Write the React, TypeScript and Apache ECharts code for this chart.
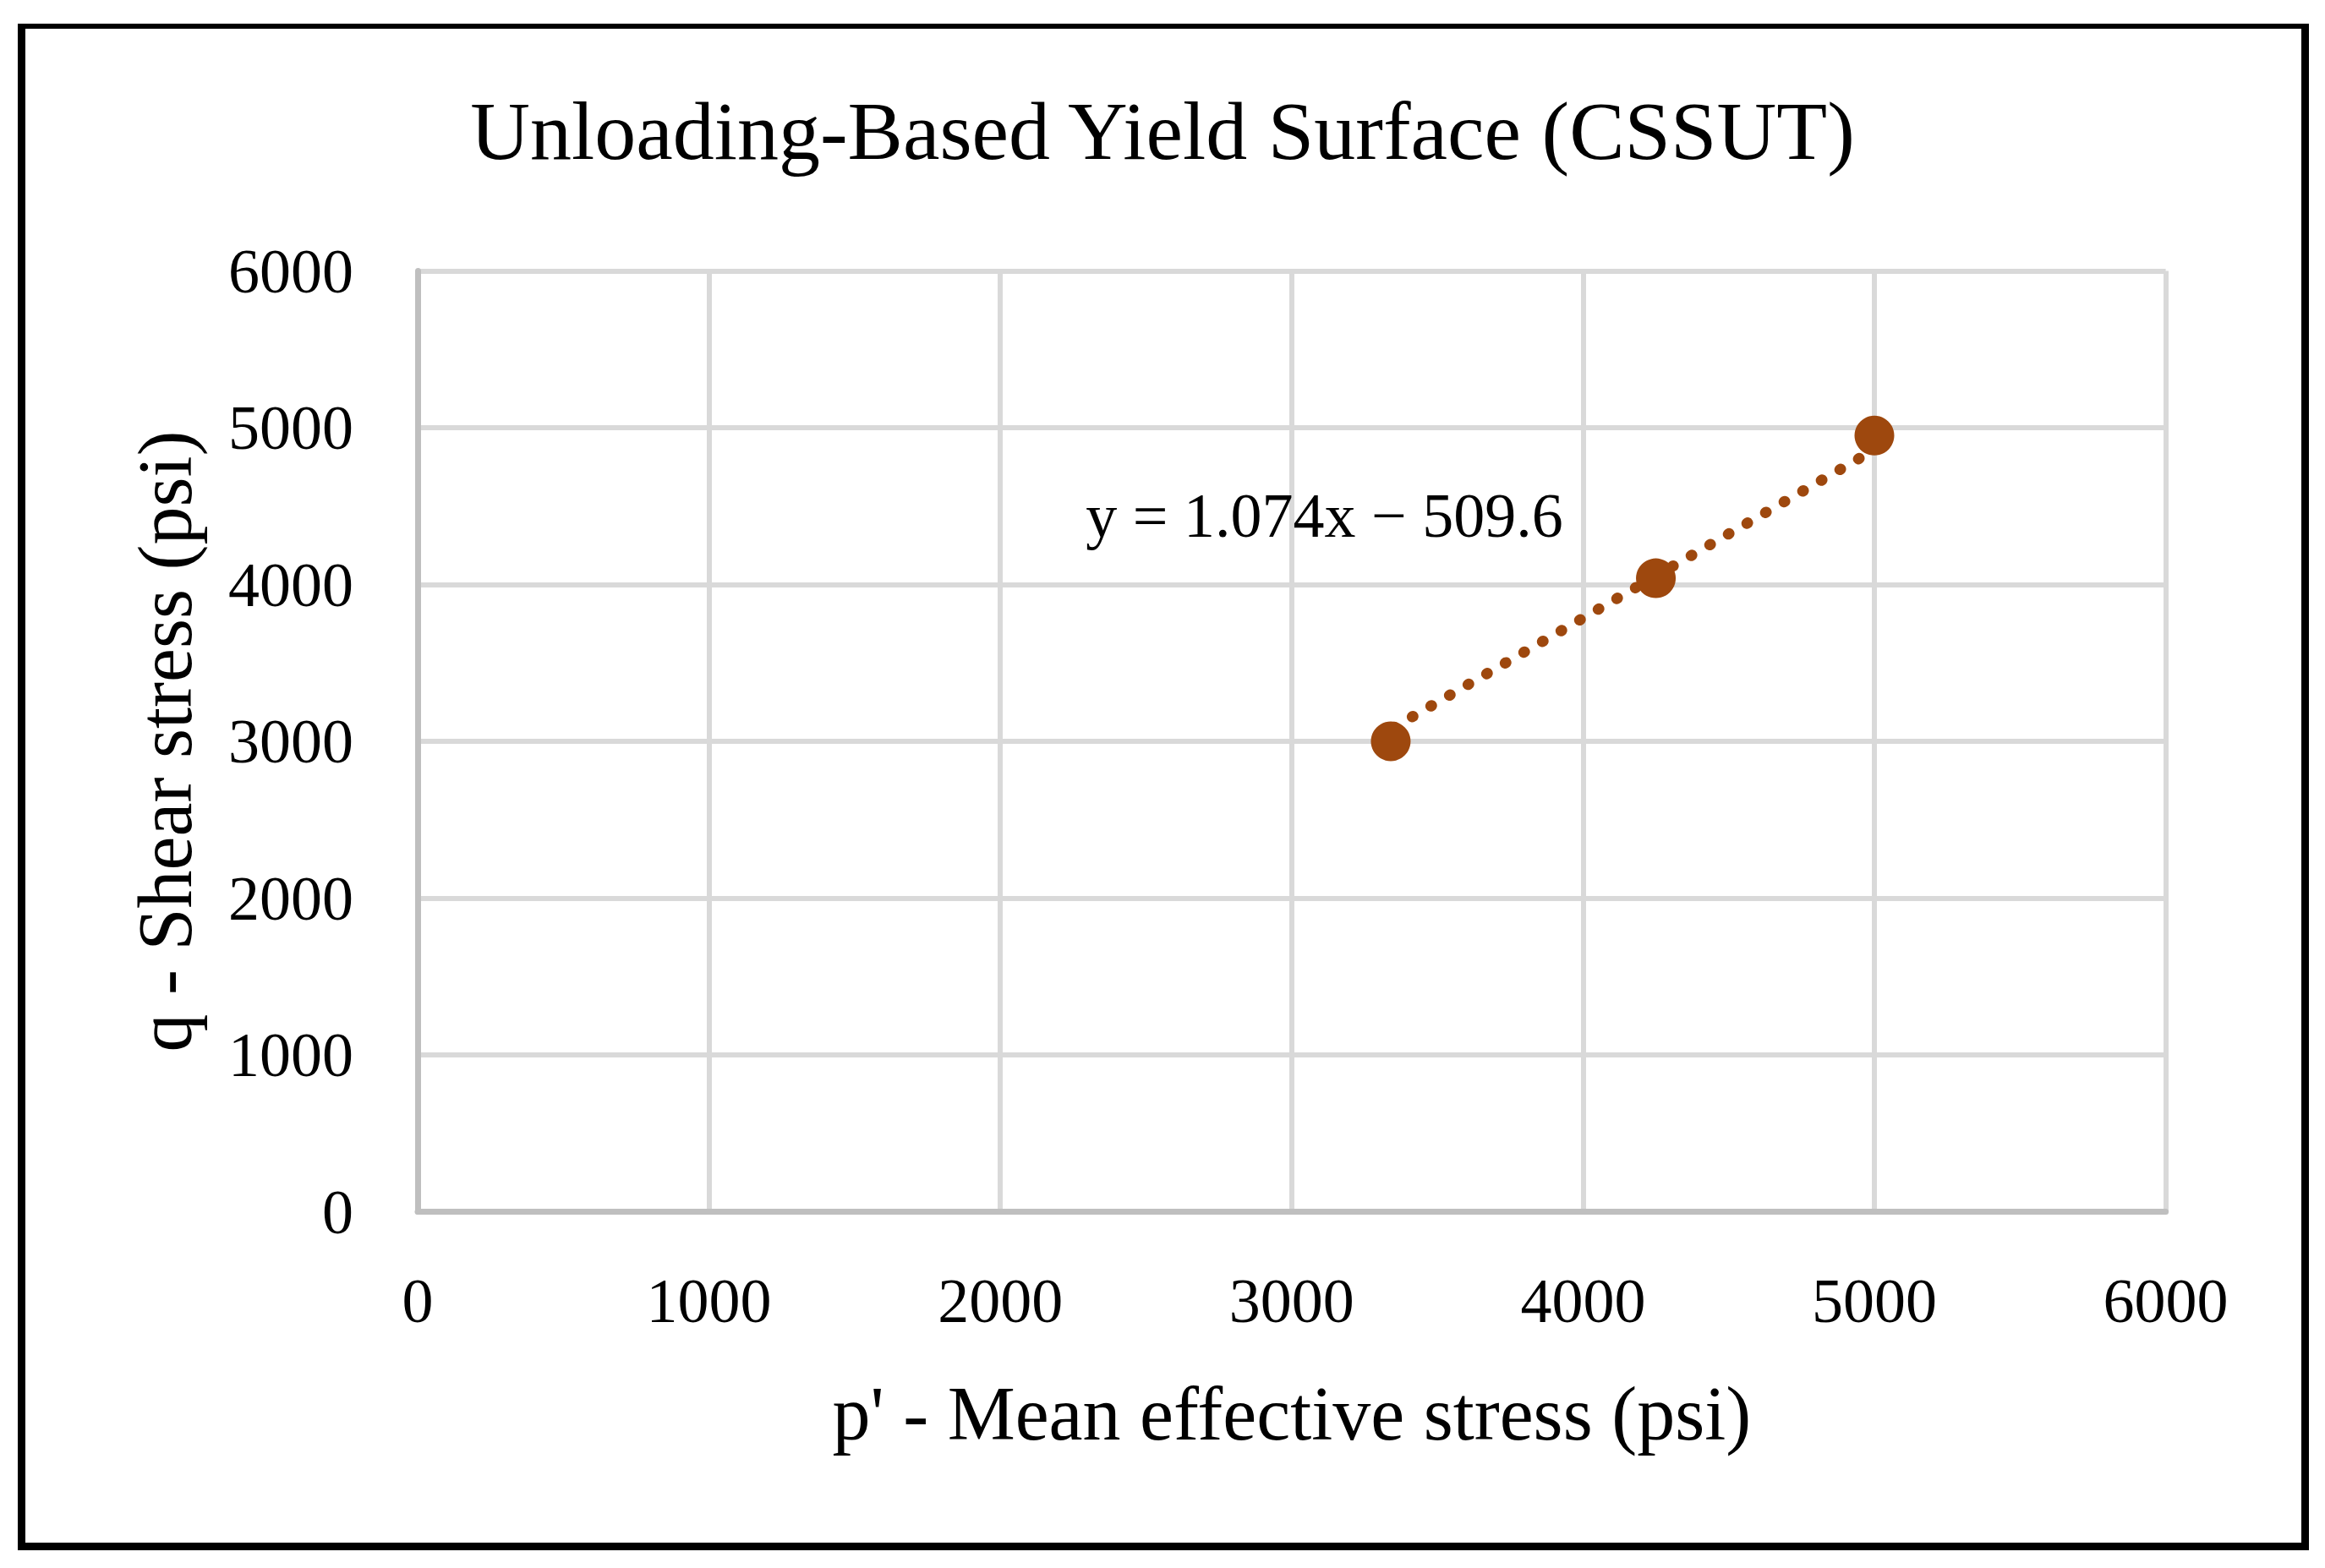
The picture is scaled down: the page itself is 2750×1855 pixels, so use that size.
import React, { useEffect, useRef } from "react";
import * as echarts from "echarts";

const TITLE = "Unloading-Based Yield Surface (CSSUT)";
const X_NAME = "p' - Mean effective stress (psi)";
const Y_NAME = "q - Shear stress (psi)";
const EQUATION = "y = 1.074x \u2212 509.6";

// measured points (p', q)
const pValues = [3340, 4250, 5000];
const qValues = [3000, 4040, 4950];

// trendline endpoints
const trendP = [3350, 5000];
const trendQ = [3088, 4860];

// equation label anchor (data coords)
const labelAnchor = [3112, 4441];

const X_MIN = 0, X_MAX = 6000, X_STEP = 1000;
const Y_MIN = 0, Y_MAX = 6000, Y_STEP = 1000;

const FONT = "'Liberation Serif', 'Times New Roman', serif";
const BROWN = "#9E480E";

export default function App() {
  const ref = useRef<HTMLDivElement>(null);
  useEffect(() => {
    if (!ref.current) return;
    const chart = echarts.init(ref.current, null, { renderer: "svg" });
    const points = pValues.map((p, i) => [p, qValues[i]]);
    const trend = trendP.map((p, i) => [p, trendQ[i]]);
    const plain = (v: number) => String(v);
    chart.setOption({
      animation: false,
      backgroundColor: "#ffffff",
      textStyle: { fontFamily: FONT },
      title: {
        text: TITLE,
        left: "center",
        top: 106,
        padding: 0,
        textStyle: { fontFamily: FONT, fontSize: 98, fontWeight: "normal", color: "#000" },
      },
      grid: { left: 494, top: 320.5, width: 2067.6, height: 1113, containLabel: false },
      xAxis: {
        type: "value",
        min: X_MIN,
        max: X_MAX,
        interval: X_STEP,
        name: X_NAME,
        nameLocation: "middle",
        nameGap: 194,
        nameTextStyle: { fontFamily: FONT, fontSize: 90, color: "#000" },
        axisLine: { show: true, lineStyle: { color: "#BFBFBF", width: 7 } },
        axisTick: { show: false },
        axisLabel: { fontFamily: FONT, fontSize: 74, color: "#000", margin: 68, formatter: plain },
        splitLine: { show: true, lineStyle: { color: "#D9D9D9", width: 6 } },
      },
      yAxis: {
        type: "value",
        min: Y_MIN,
        max: Y_MAX,
        interval: Y_STEP,
        name: Y_NAME,
        nameLocation: "middle",
        nameGap: 254,
        nameRotate: 90,
        nameTextStyle: { fontFamily: FONT, fontSize: 90, color: "#000" },
        axisLine: { show: true, lineStyle: { color: "#BFBFBF", width: 7 } },
        axisTick: { show: false },
        axisLabel: { fontFamily: FONT, fontSize: 74, color: "#000", margin: 76, formatter: plain },
        splitLine: { show: true, lineStyle: { color: "#D9D9D9", width: 6 } },
      },
      graphic: [
        { type: "rect", shape: { x: 21, y: 28, width: 9, height: 1806 }, style: { fill: "#000" } },
        { type: "rect", shape: { x: 21, y: 28, width: 2710, height: 6 }, style: { fill: "#000" } },
        { type: "rect", shape: { x: 2722, y: 28, width: 9, height: 1806 }, style: { fill: "#000" } },
        { type: "rect", shape: { x: 21, y: 1825, width: 2710, height: 9 }, style: { fill: "#000" } },
      ],
      series: [
        {
          name: "Trendline",
          type: "line",
          data: trend,
          showSymbol: false,
          symbol: "none",
          z: 2,
          lineStyle: { color: BROWN, width: 13, type: [1, 24.4], cap: "round", opacity: 1 },
          markPoint: {
            symbol: "circle",
            symbolSize: 0,
            itemStyle: { color: "transparent" },
            label: {
              show: true,
              position: "inside",
              formatter: EQUATION,
              fontFamily: FONT,
              fontSize: 74,
              color: "#000",
            },
            data: [{ coord: labelAnchor, value: 0 }],
          },
        },
        {
          name: "Data",
          type: "scatter",
          data: points,
          symbol: "circle",
          symbolSize: 47,
          z: 3,
          itemStyle: { color: BROWN, opacity: 1 },
        },
      ],
    });
    return () => chart.dispose();
  }, []);
  return (
    <div
      ref={ref}
      style={{ position: "absolute", left: 0, top: 0, width: 2750, height: 1855, background: "#fff" }}
    />
  );
}
